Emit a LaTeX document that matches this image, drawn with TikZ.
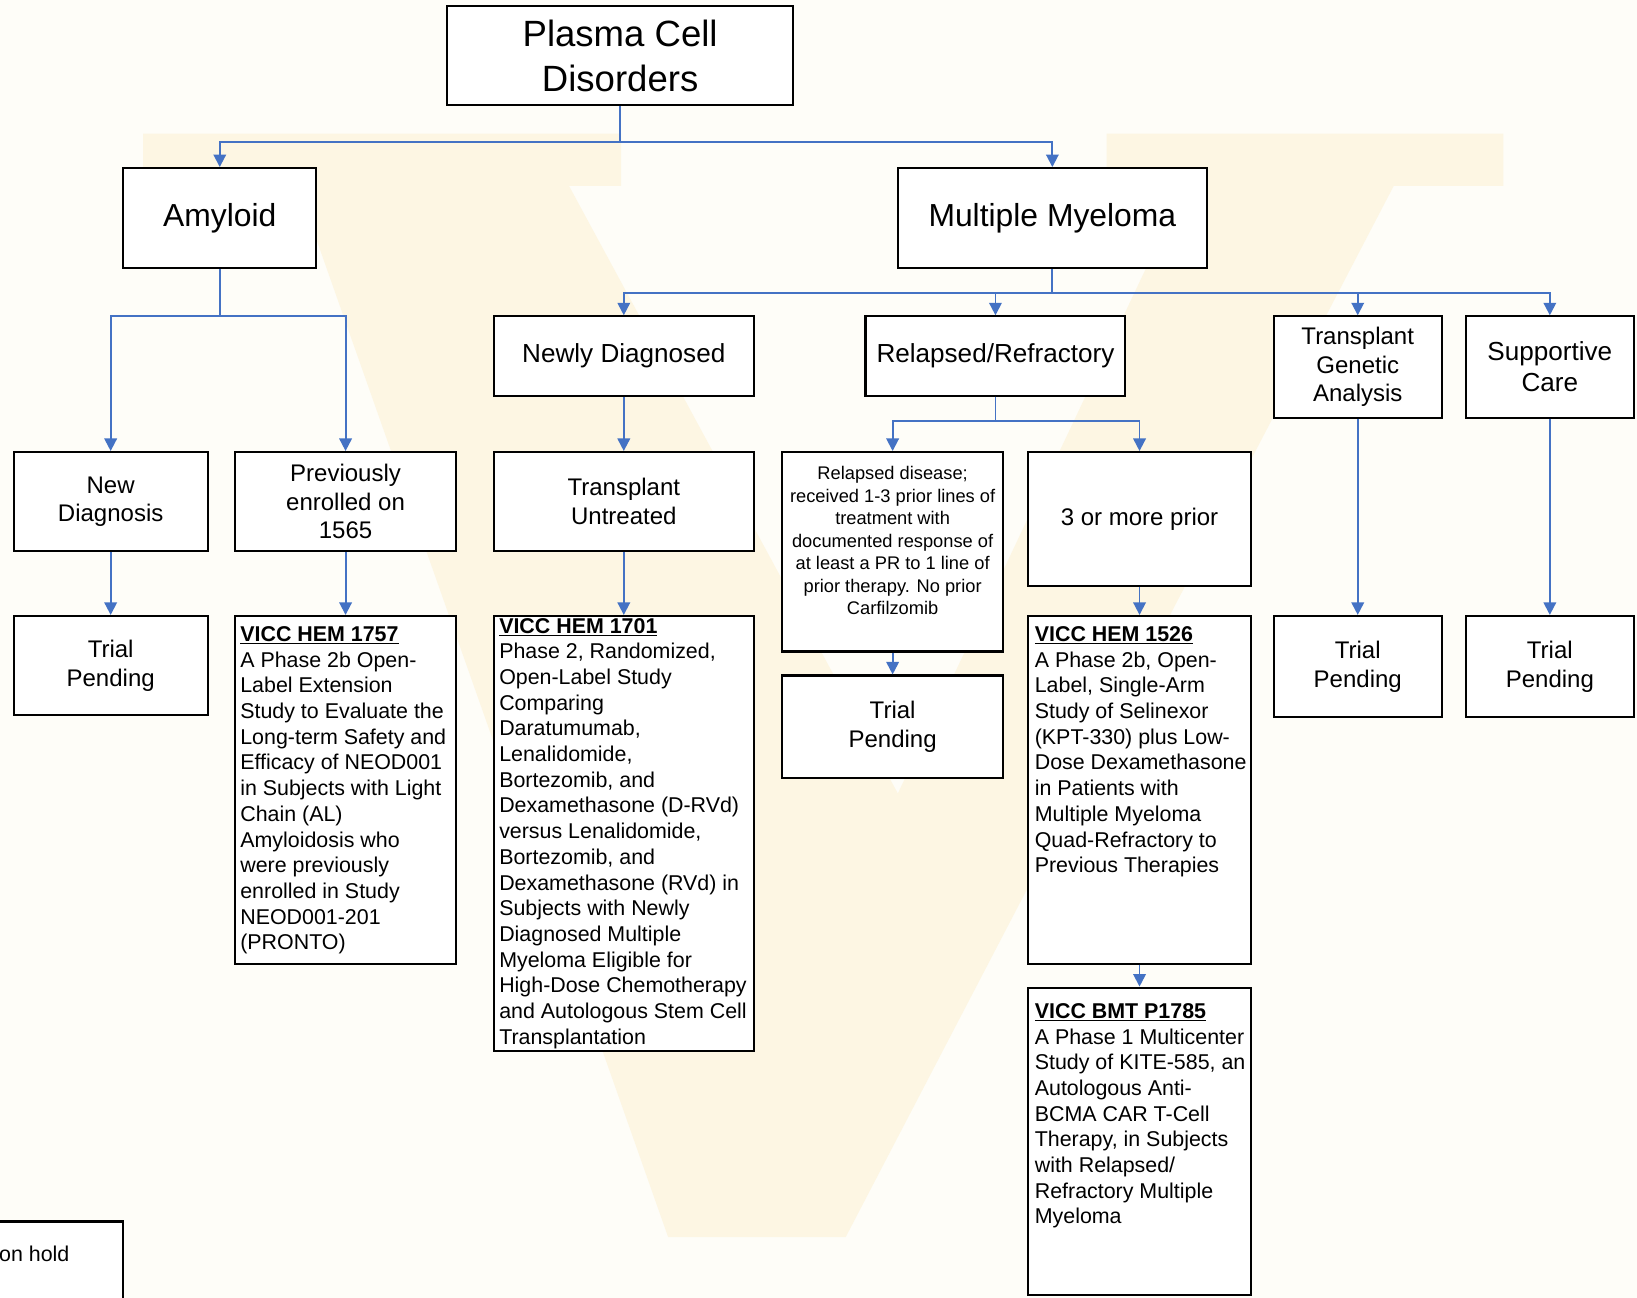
\documentclass[tikz,border=0pt]{standalone}
\usepackage{fontspec}
\setmainfont{Liberation Sans}
\usetikzlibrary{arrows.meta,calc}
\definecolor{conncol}{HTML}{4472C4}
\definecolor{bgcol}{HTML}{FEFDF8}
\definecolor{wmcol}{HTML}{FDF6E3}
\begin{document}
\begin{tikzpicture}[x=1pt,y=-1pt,
  box/.style={draw=black,line width=2pt,fill=white,inner sep=0pt,align=center},
  conn/.style={draw=conncol,line width=1.8pt,-{Triangle[length=12pt,width=12pt]}},
  fPl/.style={font=\fontsize{35}{43}\selectfont},
  fBig/.style={font=\fontsize{30.5}{36}\selectfont},
  fMid/.style={font=\fontsize{25}{30}\selectfont},
  fSm/.style={font=\fontsize{23}{27.5}\selectfont},
  fTx/.style={font=\fontsize{20.5}{24.6}\selectfont},
  fRd/.style={font=\fontsize{17.5}{21.6}\selectfont},
  txt/.style={fTx,align=left,inner sep=0pt,anchor=north west}
]
\useasboundingbox (0,0) rectangle (1568,1243);
\fill[bgcol] (0,0) rectangle (1568,1243);
% watermark V
\fill[wmcol] (137,128) -- (595,128) -- (595,178) -- (545,178) -- (860,760)
  -- (1135,178) -- (1060,178) -- (1060,128) -- (1440,128) -- (1440,178)
  -- (1335,178) -- (810,1185) -- (640,1185) -- (285,178) -- (137,178) -- cycle;

% boxes
\node[box,fPl,minimum width=332pt,minimum height=95pt] (plasma) at (594,53.5) {Plasma Cell\\Disorders};
\node[box,fBig,minimum width=185pt,minimum height=96pt] (amyloid) at (210.5,209) {Amyloid};
\node[box,fBig,minimum width=296pt,minimum height=96pt] (mm) at (1008,209) {Multiple Myeloma};
\node[box,fMid,minimum width=249pt,minimum height=76pt] (newly) at (597.5,341) {Newly Diagnosed};
\node[box,fMid,minimum width=249pt,minimum height=76pt] (relref) at (953.5,341) {Relapsed/Refractory};
\node[box,fSm,minimum width=161pt,minimum height=97pt] (tga) at (1300.5,351.5) {Transplant\\Genetic\\Analysis};
\node[box,fMid,minimum width=161pt,minimum height=97pt] (supp) at (1484.5,351.5) {Supportive\\Care};
\node[box,fSm,minimum width=186pt,minimum height=95pt] (newdiag) at (106,480.5) {New\\Diagnosis};
\node[box,fSm,minimum width=212pt,minimum height=95pt] (prev) at (331,480.5) {Previously\\enrolled on\\1565};
\node[box,fSm,minimum width=249pt,minimum height=95pt] (tu) at (597.5,480.5) {Transplant\\Untreated};
\node[box,minimum width=212pt,minimum height=191pt] (reldis) at (855,528.5) {};
\node[fRd,align=center,inner sep=0pt] (reldistxt) at (855,518) {Relapsed disease;\\received 1-3 prior lines of\\treatment with\\documented response of\\at least a PR to 1 line of\\prior therapy. No prior\\Carfilzomib};
\node[box,fSm,minimum width=213pt,minimum height=128pt] (three) at (1091.5,497) {3 or more prior};
\node[box,fSm,minimum width=186pt,minimum height=95pt] (tp1) at (106,637.5) {Trial\\Pending};
\node[box,minimum width=212pt,minimum height=333pt] (h1757) at (331,756.5) {};
\node[box,minimum width=249pt,minimum height=417pt] (h1701) at (597.5,798.5) {};
\node[box,fSm,minimum width=212pt,minimum height=98pt] (tp2) at (855,696) {Trial\\Pending};
\node[box,minimum width=213pt,minimum height=333pt] (h1526) at (1091.5,756.5) {};
\node[box,fSm,minimum width=161pt,minimum height=97pt] (tp3) at (1300.5,638.5) {Trial\\Pending};
\node[box,fSm,minimum width=161pt,minimum height=97pt] (tp4) at (1484.5,638.5) {Trial\\Pending};
\node[box,minimum width=213pt,minimum height=294pt] (p1785) at (1091.5,1093) {};
\node[box,minimum width=140pt,minimum height=110pt,anchor=north east] (onhold) at (119,1169) {};
\node[fTx,inner sep=0pt,anchor=west] (onholdtxt) at (-1,1201) {on hold};

% study texts
\node[txt] (t1757) at ($(h1757.north west)+(6,11)$) {\underline{\textbf{VICC HEM 1757}}\\A Phase 2b Open-\\Label Extension\\Study to Evaluate the\\Long-term Safety and\\Efficacy of NEOD001\\in Subjects with Light\\Chain (AL)\\Amyloidosis who\\were previously\\enrolled in Study\\NEOD001-201\\(PRONTO)};
\node[txt] (t1701) at ($(h1701.north west)+(6,3)$) {\underline{\textbf{VICC HEM 1701}}\\Phase 2, Randomized,\\Open-Label Study\\Comparing\\Daratumumab,\\Lenalidomide,\\Bortezomib, and\\Dexamethasone (D-RVd)\\versus Lenalidomide,\\Bortezomib, and\\Dexamethasone (RVd) in\\Subjects with Newly\\Diagnosed Multiple\\Myeloma Eligible for\\High-Dose Chemotherapy\\and Autologous Stem Cell\\Transplantation};
\node[txt] (t1526) at ($(h1526.north west)+(7,11)$) {\underline{\textbf{VICC HEM 1526}}\\A Phase 2b, Open-\\Label, Single-Arm\\Study of Selinexor\\(KPT-330) plus Low-\\Dose Dexamethasone\\in Patients with\\Multiple Myeloma\\Quad-Refractory to\\Previous Therapies};
\node[txt] (t1785) at ($(p1785.north west)+(7,16)$) {\underline{\textbf{VICC BMT P1785}}\\A Phase 1 Multicenter\\Study of KITE-585, an\\Autologous Anti-\\BCMA CAR T-Cell\\Therapy, in Subjects\\with Relapsed/\\Refractory Multiple\\Myeloma};

% connectors
\draw[conn] (plasma.south) -- ++(0,34) -| (amyloid.north);
\draw[conn] (plasma.south) -- ++(0,34) -| (mm.north);
\draw[conn] (amyloid.south) -- ++(0,45) -| (newdiag.north);
\draw[conn] (amyloid.south) -- ++(0,45) -| (prev.north);
\draw[conn] (mm.south) -- ++(0,23) -| (newly.north);
\draw[conn] (mm.south) -- ++(0,23) -| (relref.north);
\draw[conn] (mm.south) -- ++(0,23) -| (tga.north);
\draw[conn] (mm.south) -- ++(0,23) -| (supp.north);
\draw[conn] (newly.south) -- (tu.north);
\draw[conn] (relref.south) -- ++(0,23) -| (reldis.north);
\draw[conn] (relref.south) -- ++(0,23) -| (three.north);
\draw[conn] (tga.south) -- (tp3.north);
\draw[conn] (supp.south) -- (tp4.north);
\draw[conn] (newdiag.south) -- (tp1.north);
\draw[conn] (prev.south) -- (h1757.north);
\draw[conn] (tu.south) -- (h1701.north);
\draw[conn] (reldis.south) -- (tp2.north);
\draw[conn] (three.south) -- (h1526.north);
\draw[conn] (h1526.south) -- (p1785.north);
\end{tikzpicture}
\end{document}
